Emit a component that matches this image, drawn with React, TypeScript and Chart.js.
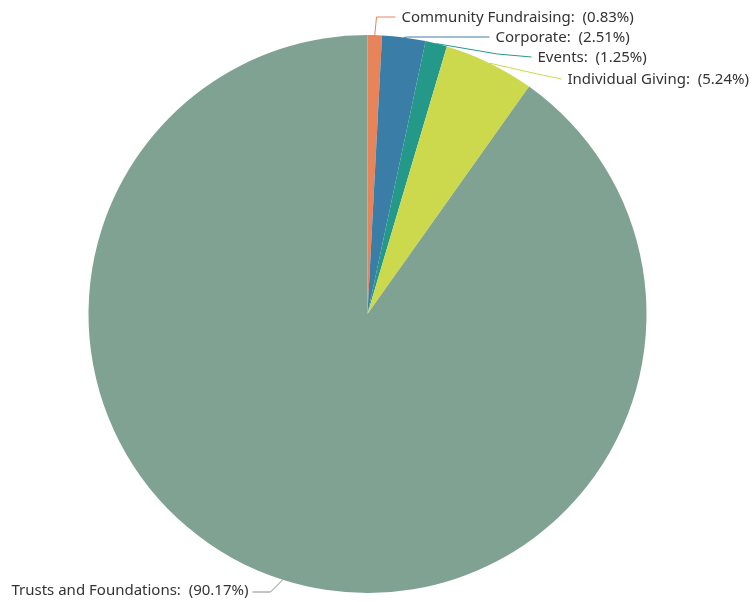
import React, { useEffect, useRef } from "react";
import { Chart, registerables } from "chart.js";

Chart.register(...registerables);

const categories = ["Community Fundraising", "Corporate", "Events", "Individual Giving", "Trusts and Foundations"];
const percentages = [0.83, 2.51, 1.25, 5.24, 90.17];
const sliceColors = ["#e8845a", "#3a7da6", "#24998a", "#ccd94c", "#7fa292"];
const lineColors = ["#e8845a", "#3a7da6", "#24998a", "#ccd94c", "#8a8a8a"];

// label layout: elbow and end of leader line, text position (relative to pie centre, in px)
const labelLayout = [
  { elbow: [9, -297], end: [28, -297], side: "right" },
  { elbow: [40, -277], end: [122, -277], side: "right" },
  { elbow: [130, -260], end: [164, -257], side: "right" },
  { elbow: [170, -240], end: [194, -235], side: "right" },
  { elbow: [-97, 278], end: [-115, 278], side: "left" },
];

const labelPlugin = {
  id: "pieLabels",
  afterDatasetsDraw(chart: any) {
    const ctx = chart.ctx;
    const meta = chart.getDatasetMeta(0);
    ctx.save();
    ctx.font = "15px 'Noto Sans', sans-serif";
    ctx.textBaseline = "middle";
    meta.data.forEach((arc: any, i: number) => {
      const p = arc.getProps(["x", "y", "startAngle", "endAngle", "outerRadius"], true);
      const mid = (p.startAngle + p.endAngle) / 2;
      const ax = p.x + Math.cos(mid) * p.outerRadius;
      const ay = p.y + Math.sin(mid) * p.outerRadius;
      const L = labelLayout[i];
      const ex = p.x + L.elbow[0], ey = p.y + L.elbow[1];
      const tx = p.x + L.end[0], ty = p.y + L.end[1];
      ctx.strokeStyle = lineColors[i];
      ctx.lineWidth = 1;
      ctx.beginPath();
      ctx.moveTo(ax, ay);
      ctx.lineTo(ex, ey);
      ctx.lineTo(tx, ty);
      ctx.stroke();
      const text = `${categories[i]}:  (${percentages[i].toFixed(2)}%)`;
      ctx.fillStyle = "#333333";
      if (L.side === "right") {
        ctx.textAlign = "left";
        ctx.fillText(text, tx + 6, ty + 1);
      } else {
        ctx.textAlign = "right";
        ctx.fillText(text, tx - 4, ty - 1);
      }
    });
    ctx.restore();
  },
};

export default function App() {
  const ref = useRef<HTMLCanvasElement>(null);
  useEffect(() => {
    if (!ref.current) return;
    const chart = new Chart(ref.current, {
      type: "pie",
      data: {
        labels: categories,
        datasets: [
          {
            data: percentages,
            backgroundColor: sliceColors,
            borderWidth: 0,
          },
        ],
      },
      options: {
        animation: false,
        responsive: true,
        maintainAspectRatio: false,
        layout: { padding: { left: 88.5, right: 107.5, top: 35, bottom: 9 } },
        plugins: { legend: { display: false }, tooltip: { enabled: false } },
      },
      plugins: [labelPlugin],
    });
    return () => chart.destroy();
  }, []);
  return (
    <div style={{ position: "absolute", left: 0, top: 0, width: 754, height: 602, background: "#fff" }}>
      <canvas ref={ref} />
    </div>
  );
}
